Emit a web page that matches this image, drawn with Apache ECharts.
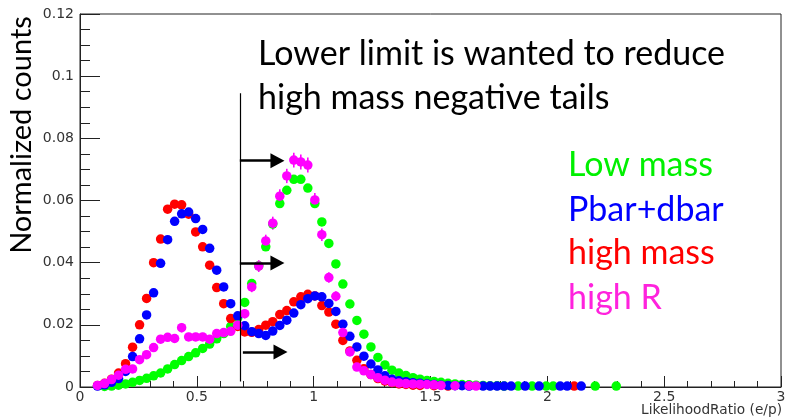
<!DOCTYPE html>
<html>
<head>
<meta charset="utf-8">
<script src="https://cdn.jsdelivr.net/npm/echarts@6/dist/echarts.min.js"></script>
<style>
  html, body { margin: 0; padding: 0; background: #ffffff; }
  #chart { width: 794px; height: 419px; }
</style>
</head>
<body>
<div id="chart"></div>
<script>
// Histogram bin centres of LikelihoodRatio (e/p), bin width 0.03
const binCenters = [
  0.015, 0.045, 0.075, 0.105, 0.135, 0.165, 0.195, 0.225, 0.255, 0.285,
  0.315, 0.345, 0.375, 0.405, 0.435, 0.465, 0.495, 0.525, 0.555, 0.585,
  0.615, 0.645, 0.675, 0.705, 0.735, 0.765, 0.795, 0.825, 0.855, 0.885,
  0.915, 0.945, 0.975, 1.005, 1.035, 1.065, 1.095, 1.125, 1.155, 1.185,
  1.215, 1.245, 1.275, 1.305, 1.335, 1.365, 1.395, 1.425, 1.455, 1.485,
  1.515, 1.545, 1.575, 1.605, 1.635, 1.665, 1.695, 1.725, 1.755, 1.785,
  1.815, 1.845, 1.875, 1.905, 1.935, 1.965, 1.995, 2.025, 2.055, 2.085,
  2.115, 2.145, 2.175, 2.205, 2.235, 2.265, 2.295
];

// Normalized counts per bin (null = empty bin)
const lowMass = [
  null, null, null, 0.0002, 0.0003, 0.0006, 0.0010, 0.0015, 0.0021, 0.0028,
  0.0036, 0.0045, 0.0058, 0.0072, 0.0085, 0.0098, 0.0110, 0.0124, 0.0138, 0.0155,
  0.0172, 0.0195, 0.0222, 0.0272, 0.0333, 0.0390, 0.0451, 0.0524, 0.0590, 0.0633,
  0.0668, 0.0668, 0.0640, 0.0590, 0.0531, 0.0462, 0.0396, 0.0331, 0.0267, 0.0214,
  0.0170, 0.0129, 0.0095, 0.0071, 0.0054, 0.0045, 0.0037, 0.0030, 0.0025, 0.0021,
  0.0018, 0.0015, 0.0012, 0.0010, 0.0008, 0.0007, 0.0006, 0.0005, 0.0004, 0.0004,
  0.0003, null, 0.0003, null, 0.0003, null, 0.0003, 0.0003, null, null,
  null, null, null, 0.0003, null, null, 0.0003
];

const pbarDbar = [
  null, null, 0.0003, 0.0007, 0.0015, 0.0027, 0.0050, 0.0098, 0.0155, 0.0232,
  0.0303, 0.0398, 0.0474, 0.0533, 0.0557, 0.0563, 0.0542, 0.0507, 0.0446, 0.0376,
  0.0322, 0.0268, 0.0229, 0.0197, 0.0178, 0.0172, 0.0166, 0.0180, 0.0198, 0.0215,
  0.0238, 0.0265, 0.0284, 0.0293, 0.0290, 0.0269, 0.0243, 0.0202, 0.0163, 0.0129,
  0.0099, 0.0074, 0.0055, 0.0036, 0.0025, 0.0020, 0.0017, 0.0014, 0.0012, 0.0010,
  0.0008, 0.0006, 0.0005, 0.0004, 0.0004, 0.0003, null, 0.0003, 0.0003, 0.0003,
  0.0003, 0.0003, null, 0.0003, null, 0.0003, null, null, 0.0003, 0.0003,
  null, 0.0003, null, null, null, null, null
];

const highMass = [
  null, null, 0.0005, 0.0012, 0.0025, 0.0045, 0.0075, 0.0128, 0.0200, 0.0285,
  0.0400, 0.0476, 0.0572, 0.0588, 0.0586, 0.0556, 0.0499, 0.0451, 0.0392, 0.0320,
  0.0268, 0.0220, 0.0195, 0.0177, 0.0176, 0.0185, 0.0199, 0.0210, 0.0233, 0.0246,
  0.0274, 0.0290, 0.0298, 0.0293, 0.0262, 0.0241, 0.0202, 0.0150, 0.0116, 0.0086,
  0.0059, 0.0040, 0.0027, 0.0019, 0.0014, 0.0010, 0.0008, 0.0006, 0.0005, null,
  0.0004, null, 0.0003, null, null, null, null, null, null, null,
  null, null, null, null, null, null, null, null, null, null,
  0.0003, null, null, null, null, null, null
];

const highR = [
  null, null, 0.0005, 0.0011, 0.0024, 0.0038, 0.0057, 0.0058, 0.0088, 0.0104,
  0.0127, 0.0154, 0.0160, 0.0156, 0.0191, 0.0161, 0.0161, 0.0161, 0.0154, 0.0172,
  0.0175, 0.0179, 0.0199, 0.0236, 0.0322, 0.0389, 0.0470, 0.0527, 0.0614, 0.0679,
  0.0730, 0.0724, 0.0714, 0.0602, 0.0490, 0.0352, 0.0292, 0.0175, 0.0113, 0.0064,
  0.0052, 0.0040, 0.0030, 0.0022, 0.0016, 0.0013, 0.0011, 0.0010, 0.0009, 0.0008,
  0.0007, 0.0005, null, 0.0004, null, 0.0004, 0.0003, null, null, null,
  null, null, null, null, null, null, null, null, null, null,
  null, null, null, null, null, null, null
];

// Statistical errors of the high R sample (null = hidden by the marker)
const highRErr = [
  null, null, null, null, null, null, null, null, null, null,
  0.0012, 0.0013, 0.0013, 0.0013, 0.0015, 0.0013, 0.0013, 0.0013, 0.0013, 0.0013,
  0.0013, 0.0013, 0.0014, 0.0015, 0.0017, 0.0019, 0.0020, 0.0021, 0.0022, 0.0023,
  0.0024, 0.0024, 0.0024, 0.0022, 0.0020, 0.0017, 0.0016, 0.0013, 0.0011, null,
  null, null, null, null, null, null, null, null, null, null,
  null, null, null, null, null, null, null, null, null, null,
  null, null, null, null, null, null, null, null, null, null,
  null, null, null, null, null, null, null
];

// Lower cut on the likelihood ratio and the rows of the annotation arrows
const cutValue = 0.684;
const cutLineTop = 0.0945;
const cutLineBottom = 0.0018;
const arrowRows = [0.0728, 0.0399, 0.0113];
const arrowStarts = [0.684, 0.684, 0.697];
const arrowEnds = [0.845, 0.845, 0.858];

const legendNames = ['Low mass', 'Pbar+dbar', 'high mass', 'high R'];
const legendColors = ['#00f000', '#0000ff', '#ff0000', '#ff22dd'];
const markerColors = ['#00ff00', '#0000ff', '#ff0000', '#ff00ff'];

function toPoints(values) {
  const pts = [];
  values.forEach((v, i) => { if (v !== null) pts.push([binCenters[i], v]); });
  return pts;
}

function toErrors(values, errors) {
  const out = [];
  values.forEach((v, i) => {
    if (v !== null && errors[i] !== null) out.push([binCenters[i], v - errors[i], v + errors[i]]);
  });
  return out;
}

const axisColor = '#222';
const labelFont = 'DejaVu Sans';
const markerSize = 9.5;

function scatterSeries(values, color) {
  return {
    type: 'scatter',
    data: toPoints(values),
    symbol: 'circle',
    symbolSize: markerSize,
    itemStyle: { color: color, opacity: 1 },
    silent: true
  };
}

const series = [
  scatterSeries(lowMass, markerColors[0]),
  scatterSeries(highMass, markerColors[2]),
  scatterSeries(pbarDbar, markerColors[1]),
  {
    type: 'custom',
    data: toErrors(highR, highRErr),
    silent: true,
    renderItem: function (params, api) {
      const lo = api.coord([api.value(0), api.value(1)]);
      const hi = api.coord([api.value(0), api.value(2)]);
      return {
        type: 'line',
        shape: { x1: lo[0], y1: lo[1], x2: hi[0], y2: hi[1] },
        style: { stroke: markerColors[3], lineWidth: 1.6 }
      };
    }
  },
  scatterSeries(highR, markerColors[3])
];

const annotLines = [
  [{ coord: [cutValue, cutLineBottom], symbol: 'none' }, { coord: [cutValue, cutLineTop], symbol: 'none' }]
];
arrowRows.forEach((y, i) => {
  annotLines.push([
    { coord: [arrowStarts[i], y], symbol: 'none', lineStyle: { width: 2.6, color: '#000' } },
    { coord: [arrowEnds[i], y], symbol: 'triangle', symbolSize: [15, 14], itemStyle: { color: '#000' } }
  ]);
});

series.push({
  type: 'scatter',
  data: [],
  silent: true,
  markLine: {
    silent: true,
    animation: false,
    label: { show: false },
    emphasis: { disabled: true },
    lineStyle: { color: '#000', width: 1.2, type: 'solid' },
    data: annotLines
  }
});

const textFont = 'Lato';
const legendY = [165, 210, 253, 298];

const graphics = [
  {
    type: 'text', x: 22, y: 135, rotation: Math.PI / 2,
    style: { text: 'Normalized counts', font: '29px ' + textFont, fill: '#000', align: 'center', verticalAlign: 'middle' }
  },
  {
    type: 'text', x: 258, y: 54,
    style: { text: 'Lower limit is wanted to reduce', font: '34px ' + textFont, fill: '#000', align: 'left', verticalAlign: 'middle' }
  },
  {
    type: 'text', x: 258, y: 98,
    style: { text: 'high mass negative tails', font: '34px ' + textFont, fill: '#000', align: 'left', verticalAlign: 'middle' }
  },
  {
    type: 'text', x: 782, y: 410,
    style: { text: 'LikelihoodRatio (e/p)', font: '13.7px ' + labelFont, fill: '#333', align: 'right', verticalAlign: 'middle' }
  }
];
legendNames.forEach((name, i) => {
  graphics.push({
    type: 'text', x: 568, y: legendY[i],
    style: { text: name, font: '34px ' + textFont, fill: legendColors[i], align: 'left', verticalAlign: 'middle' }
  });
});

const chart = echarts.init(document.getElementById('chart'), null, { renderer: 'canvas' });
chart.setOption({
  animation: false,
  backgroundColor: '#ffffff',
  grid: { left: 80, right: 13, top: 14, bottom: 32, show: true, borderColor: axisColor, borderWidth: 1, backgroundColor: 'transparent' },
  xAxis: {
    type: 'value', min: 0, max: 3, interval: 0.5,
    axisLine: { show: true, lineStyle: { color: axisColor, width: 1 } },
    axisTick: { show: true, inside: true, length: 11, lineStyle: { color: axisColor } },
    minorTick: { show: true, splitNumber: 5, length: 6, lineStyle: { color: axisColor } },
    splitLine: { show: false },
    axisLabel: { color: '#333', fontFamily: labelFont, fontSize: 14, margin: 3 }
  },
  yAxis: {
    type: 'value', min: 0, max: 0.12, interval: 0.02,
    axisLine: { show: true, lineStyle: { color: axisColor, width: 1 } },
    axisTick: { show: true, inside: true, length: 20, lineStyle: { color: axisColor } },
    minorTick: { show: true, splitNumber: 4, length: 10, lineStyle: { color: axisColor } },
    splitLine: { show: false },
    axisLabel: { color: '#333', fontFamily: labelFont, fontSize: 14, margin: 6 }
  },
  series: series,
  graphic: graphics
});
</script>
</body>
</html>
